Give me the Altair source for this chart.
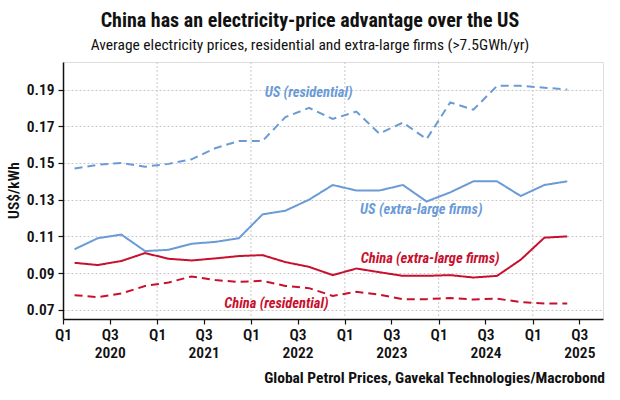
import altair as alt
import pandas as pd

FONT = "Liberation Sans Narrow, Roboto Condensed, Lato, sans-serif"

quarters = ["2020Q1", "2020Q2", "2020Q3", "2020Q4", "2021Q1", "2021Q2", "2021Q3", "2021Q4",
            "2022Q1", "2022Q2", "2022Q3", "2022Q4", "2023Q1", "2023Q2", "2023Q3", "2023Q4",
            "2024Q1", "2024Q2", "2024Q3", "2024Q4", "2025Q1", "2025Q2"]
us_res = [0.147, 0.149, 0.150, 0.148, 0.1495, 0.152, 0.158, 0.162, 0.162, 0.175, 0.180, 0.174,
          0.178, 0.166, 0.172, 0.163, 0.183, 0.179, 0.192, 0.192, 0.191, 0.190]
us_xl = [0.103, 0.109, 0.111, 0.102, 0.1027, 0.106, 0.107, 0.109, 0.122, 0.124, 0.130, 0.138,
         0.135, 0.135, 0.138, 0.129, 0.134, 0.140, 0.140, 0.132, 0.138, 0.140]
cn_xl = [0.0956, 0.0944, 0.0966, 0.1009, 0.0978, 0.0969, 0.098, 0.0993, 0.0998, 0.096, 0.0934, 0.0889,
         0.0925, 0.0905, 0.0885, 0.0885, 0.0889, 0.0876, 0.0885, 0.0973, 0.1093, 0.110]
cn_res = [0.078, 0.0769, 0.0789, 0.083, 0.0849, 0.0882, 0.0862, 0.0852, 0.0858, 0.083, 0.0818, 0.0776,
          0.0798, 0.0783, 0.0758, 0.0758, 0.0765, 0.0756, 0.0761, 0.0742, 0.0734, 0.0734]

series_names = ["US (residential)", "US (extra-large firms)", "China (extra-large firms)", "China (residential)"]
series_colors = ["#6b9bd6", "#6b9bd6", "#c8102e", "#c8102e"]
series_dash = [[8, 5], [1, 0], [1, 0], [8, 5]]

# label anchor points (date, value) for the in-plot series labels
label_dates = ["2022-08-13T00:00:00", "2023-10-25T00:00:00", "2023-11-29T00:00:00", "2022-04-10T00:00:00"]
label_values = [0.188, 0.1246, 0.0977, 0.0731]

grid_years = ["2021-01-01T00:00:00", "2022-01-01T00:00:00", "2023-01-01T00:00:00",
              "2024-01-01T00:00:00", "2025-01-01T00:00:00"]

mid_month = {"1": "02", "2": "05", "3": "08", "4": "11"}


def qdate(q):
    return f"{q[:4]}-{mid_month[q[5]]}-15T00:00:00"


rows = []
for name, vals in zip(series_names, [us_res, us_xl, cn_xl, cn_res]):
    for q, v in zip(quarters, vals):
        rows.append({"date": qdate(q), "value": v, "series": name})
df = pd.DataFrame(rows)

labels_df = pd.DataFrame({"date": label_dates, "value": label_values, "series": series_names})
grid_df = pd.DataFrame({"date": grid_years})

tick_dates = [alt.DateTime(year=y, month=m, date=1) for y in range(2020, 2026) for m in (1, 7)]

x_scale = alt.Scale(domain=[alt.DateTime(year=2020, month=1, date=1),
                            alt.DateTime(year=2025, month=10, date=1)], nice=False)
y_scale = alt.Scale(domain=[0.065, 0.205], nice=False, zero=False)
color_scale = alt.Scale(domain=series_names, range=series_colors)
dash_scale = alt.Scale(domain=series_names, range=series_dash)

x_axis = alt.Axis(
    values=tick_dates,
    labelExpr="month(datum.value)==6 ? ['Q3', timeFormat(datum.value, '%Y')] : 'Q1'",
    title=None,
    labelOverlap=False, labelFlush=False, labelBound=False,
    labelFont=FONT, labelFontSize=15.5, labelFontWeight=600, labelColor="#111", labelLineHeight=18,
    labelPadding=3, labelBaseline="top",
    tickSize=5, tickColor="#111", tickWidth=1.2,
    domainColor="#111", domainWidth=1.5,
    grid=False,
)

y_axis = alt.Axis(
    values=[round(0.07 + 0.01 * i, 2) for i in range(14)],
    labelExpr="round(datum.value*100)%2==1 ? format(datum.value, '.2f') : ''",
    title="US$/kWh", titleFont=FONT, titleFontSize=15.5, titleFontWeight=600, titleColor="#111",
    titleX=-50, titleY=128, titleBaseline="middle", titleAngle=-90,
    labelFont=FONT, labelFontSize=15.5, labelFontWeight=600, labelColor="#111", labelPadding=4,
    tickSize=5, tickColor="#111", tickWidth=1.2,
    domainColor="#111", domainWidth=1.5,
    grid=True, gridDash=[2, 2], gridColor="#c8c8c8", gridWidth=1,
)

grid = alt.Chart(grid_df).mark_rule(color="#c8c8c8", strokeWidth=1, strokeDash=[2, 2]).encode(
    x=alt.X("date:T", scale=x_scale, axis=x_axis),
)

lines = alt.Chart(df).mark_line(strokeWidth=2).encode(
    x=alt.X("date:T", scale=x_scale, axis=x_axis),
    y=alt.Y("value:Q", scale=y_scale, axis=y_axis),
    color=alt.Color("series:N", scale=color_scale, legend=None),
    strokeDash=alt.StrokeDash("series:N", scale=dash_scale, legend=None),
    detail="series:N",
)

texts = alt.Chart(labels_df).mark_text(
    font=FONT, fontSize=14.5, fontStyle="italic", fontWeight="bold", align="center", baseline="middle"
).encode(
    x=alt.X("date:T", scale=x_scale),
    y=alt.Y("value:Q", scale=y_scale),
    text="series:N",
    color=alt.Color("series:N", scale=color_scale, legend=None),
)

footer = alt.Chart(pd.DataFrame({"t": ["Global Petrol Prices, Gavekal Technologies/Macrobond"]})).mark_text(
    font=FONT, fontSize=15.5, fontWeight="bold", align="right", baseline="middle", color="#111"
).encode(x=alt.value(542), y=alt.value(316), text="t:N")

chart = alt.layer(grid, lines, texts, footer).properties(
    width=540, height=257,
    title=alt.TitleParams(
        text="China has an electricity-price advantage over the US",
        subtitle="Average electricity prices, residential and extra-large firms (>7.5GWh/yr)",
        anchor="middle", dx=-23, offset=8,
        font=FONT, fontSize=20, fontWeight="bold", color="#111",
        subtitleFont=FONT, subtitleFontSize=15.5, subtitleColor="#111", subtitlePadding=7,
    ),
    autosize=alt.AutoSizeParams(type="none"),
    padding={"left": 63, "top": 62, "right": 17, "bottom": 81},
).configure_view(stroke="#222", strokeWidth=1.5).configure(background="white")

chart.save("out.html", embed_options={"renderer": "svg", "actions": False})
